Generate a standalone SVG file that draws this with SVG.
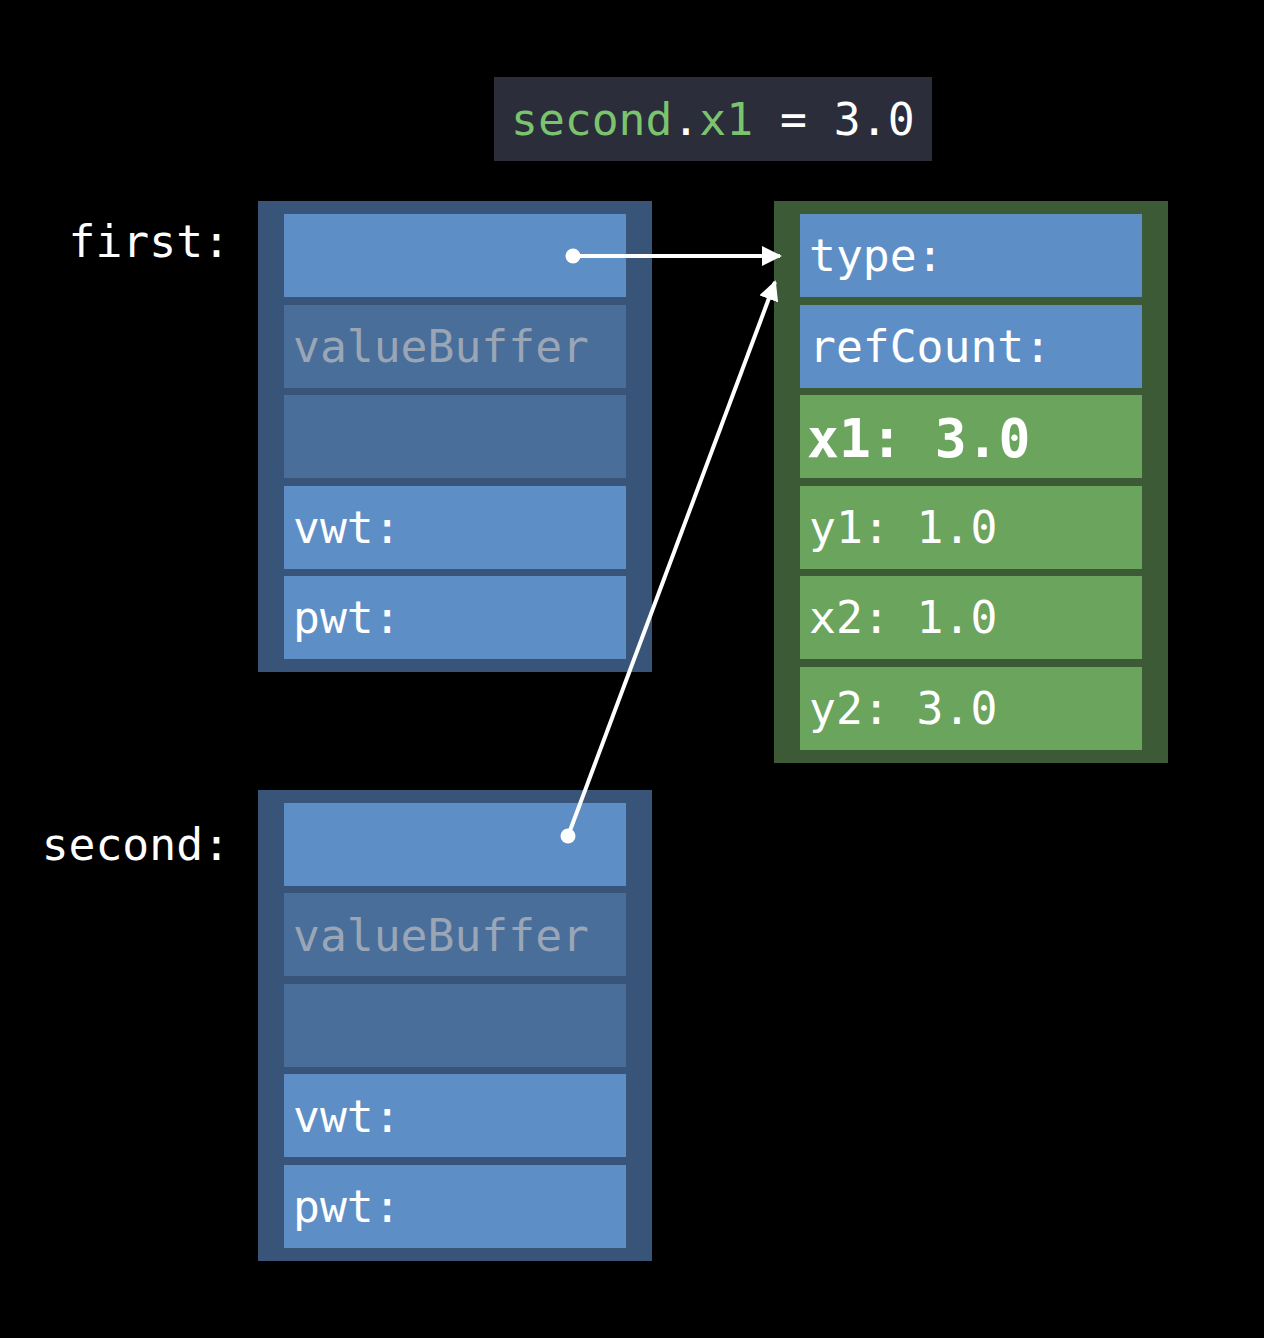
<svg xmlns="http://www.w3.org/2000/svg" width="1264" height="1338" viewBox="0 0 1264 1338">
<defs>
<style>
text{font-family:"DejaVu Sans Mono","Liberation Mono",monospace;font-size:44.7px;fill:#ffffff}
text.big{font-size:53px;font-weight:bold}
.outerB{fill:#385478}
.outerG{fill:#3c5a36}
.blue{fill:#5e8ec6}
.dim{fill:#4a6e9a}
.green{fill:#6aa45d}
.gray{fill:#9aa6b6}
.code{fill:#7ac46e}
.lbl{text-anchor:end}
.wire{stroke:#ffffff;stroke-width:4;fill:none}
</style>
<marker id="ah" viewBox="0 0 10 10" refX="9" refY="5" markerWidth="5" markerHeight="5" markerUnits="strokeWidth" orient="auto">
<path d="M0,0 L10,5 L0,10 Z" fill="#ffffff"/>
</marker>
</defs>
<rect width="1264" height="1338" fill="#000000"/>
<g id="code">
<rect x="494" y="77" width="438" height="84" fill="#2c2d3a"/>
<text x="511" y="135"><tspan class="code">second</tspan>.<tspan class="code">x1</tspan> = 3.0</text>
</g>
<g id="first">
<text class="lbl" x="230" y="257">first:</text>
<rect class="outerB" x="258" y="201" width="394" height="471"/>
<rect class="blue" x="284" y="214" width="342" height="83"/>
<rect class="dim" x="284" y="305" width="342" height="83"/>
<text class="gray" x="293" y="362">valueBuffer</text>
<rect class="dim" x="284" y="395" width="342" height="83"/>
<rect class="blue" x="284" y="486" width="342" height="83"/>
<text x="293" y="543">vwt:</text>
<rect class="blue" x="284" y="576" width="342" height="83"/>
<text x="293" y="633">pwt:</text>
</g>
<g id="second">
<text class="lbl" x="230" y="860">second:</text>
<rect class="outerB" x="258" y="790" width="394" height="471"/>
<rect class="blue" x="284" y="803" width="342" height="83"/>
<rect class="dim" x="284" y="893" width="342" height="83"/>
<text class="gray" x="293" y="951">valueBuffer</text>
<rect class="dim" x="284" y="984" width="342" height="83"/>
<rect class="blue" x="284" y="1074" width="342" height="83"/>
<text x="293" y="1132">vwt:</text>
<rect class="blue" x="284" y="1165" width="342" height="83"/>
<text x="293" y="1222">pwt:</text>
</g>
<g id="object">
<rect class="outerG" x="774" y="201" width="394" height="562"/>
<rect class="blue" x="800" y="214" width="342" height="83"/>
<text x="809" y="271">type:</text>
<rect class="blue" x="800" y="305" width="342" height="83"/>
<text x="809" y="362">refCount:</text>
<rect class="green" x="800" y="395" width="342" height="83"/>
<text class="big" x="807" y="457">x1: 3.0</text>
<rect class="green" x="800" y="486" width="342" height="83"/>
<text x="809" y="543">y1: 1.0</text>
<rect class="green" x="800" y="576" width="342" height="83"/>
<text x="809" y="633">x2: 1.0</text>
<rect class="green" x="800" y="667" width="342" height="83"/>
<text x="809" y="724">y2: 3.0</text>
</g>
<g id="connectors">
<circle cx="573" cy="256" r="7.5" fill="#ffffff"/>
<line class="wire" x1="573" y1="256" x2="780" y2="256" marker-end="url(#ah)"/>
<circle cx="568" cy="836" r="7.5" fill="#ffffff"/>
<line class="wire" x1="568" y1="836" x2="775" y2="282" marker-end="url(#ah)"/>
</g>
</svg>
